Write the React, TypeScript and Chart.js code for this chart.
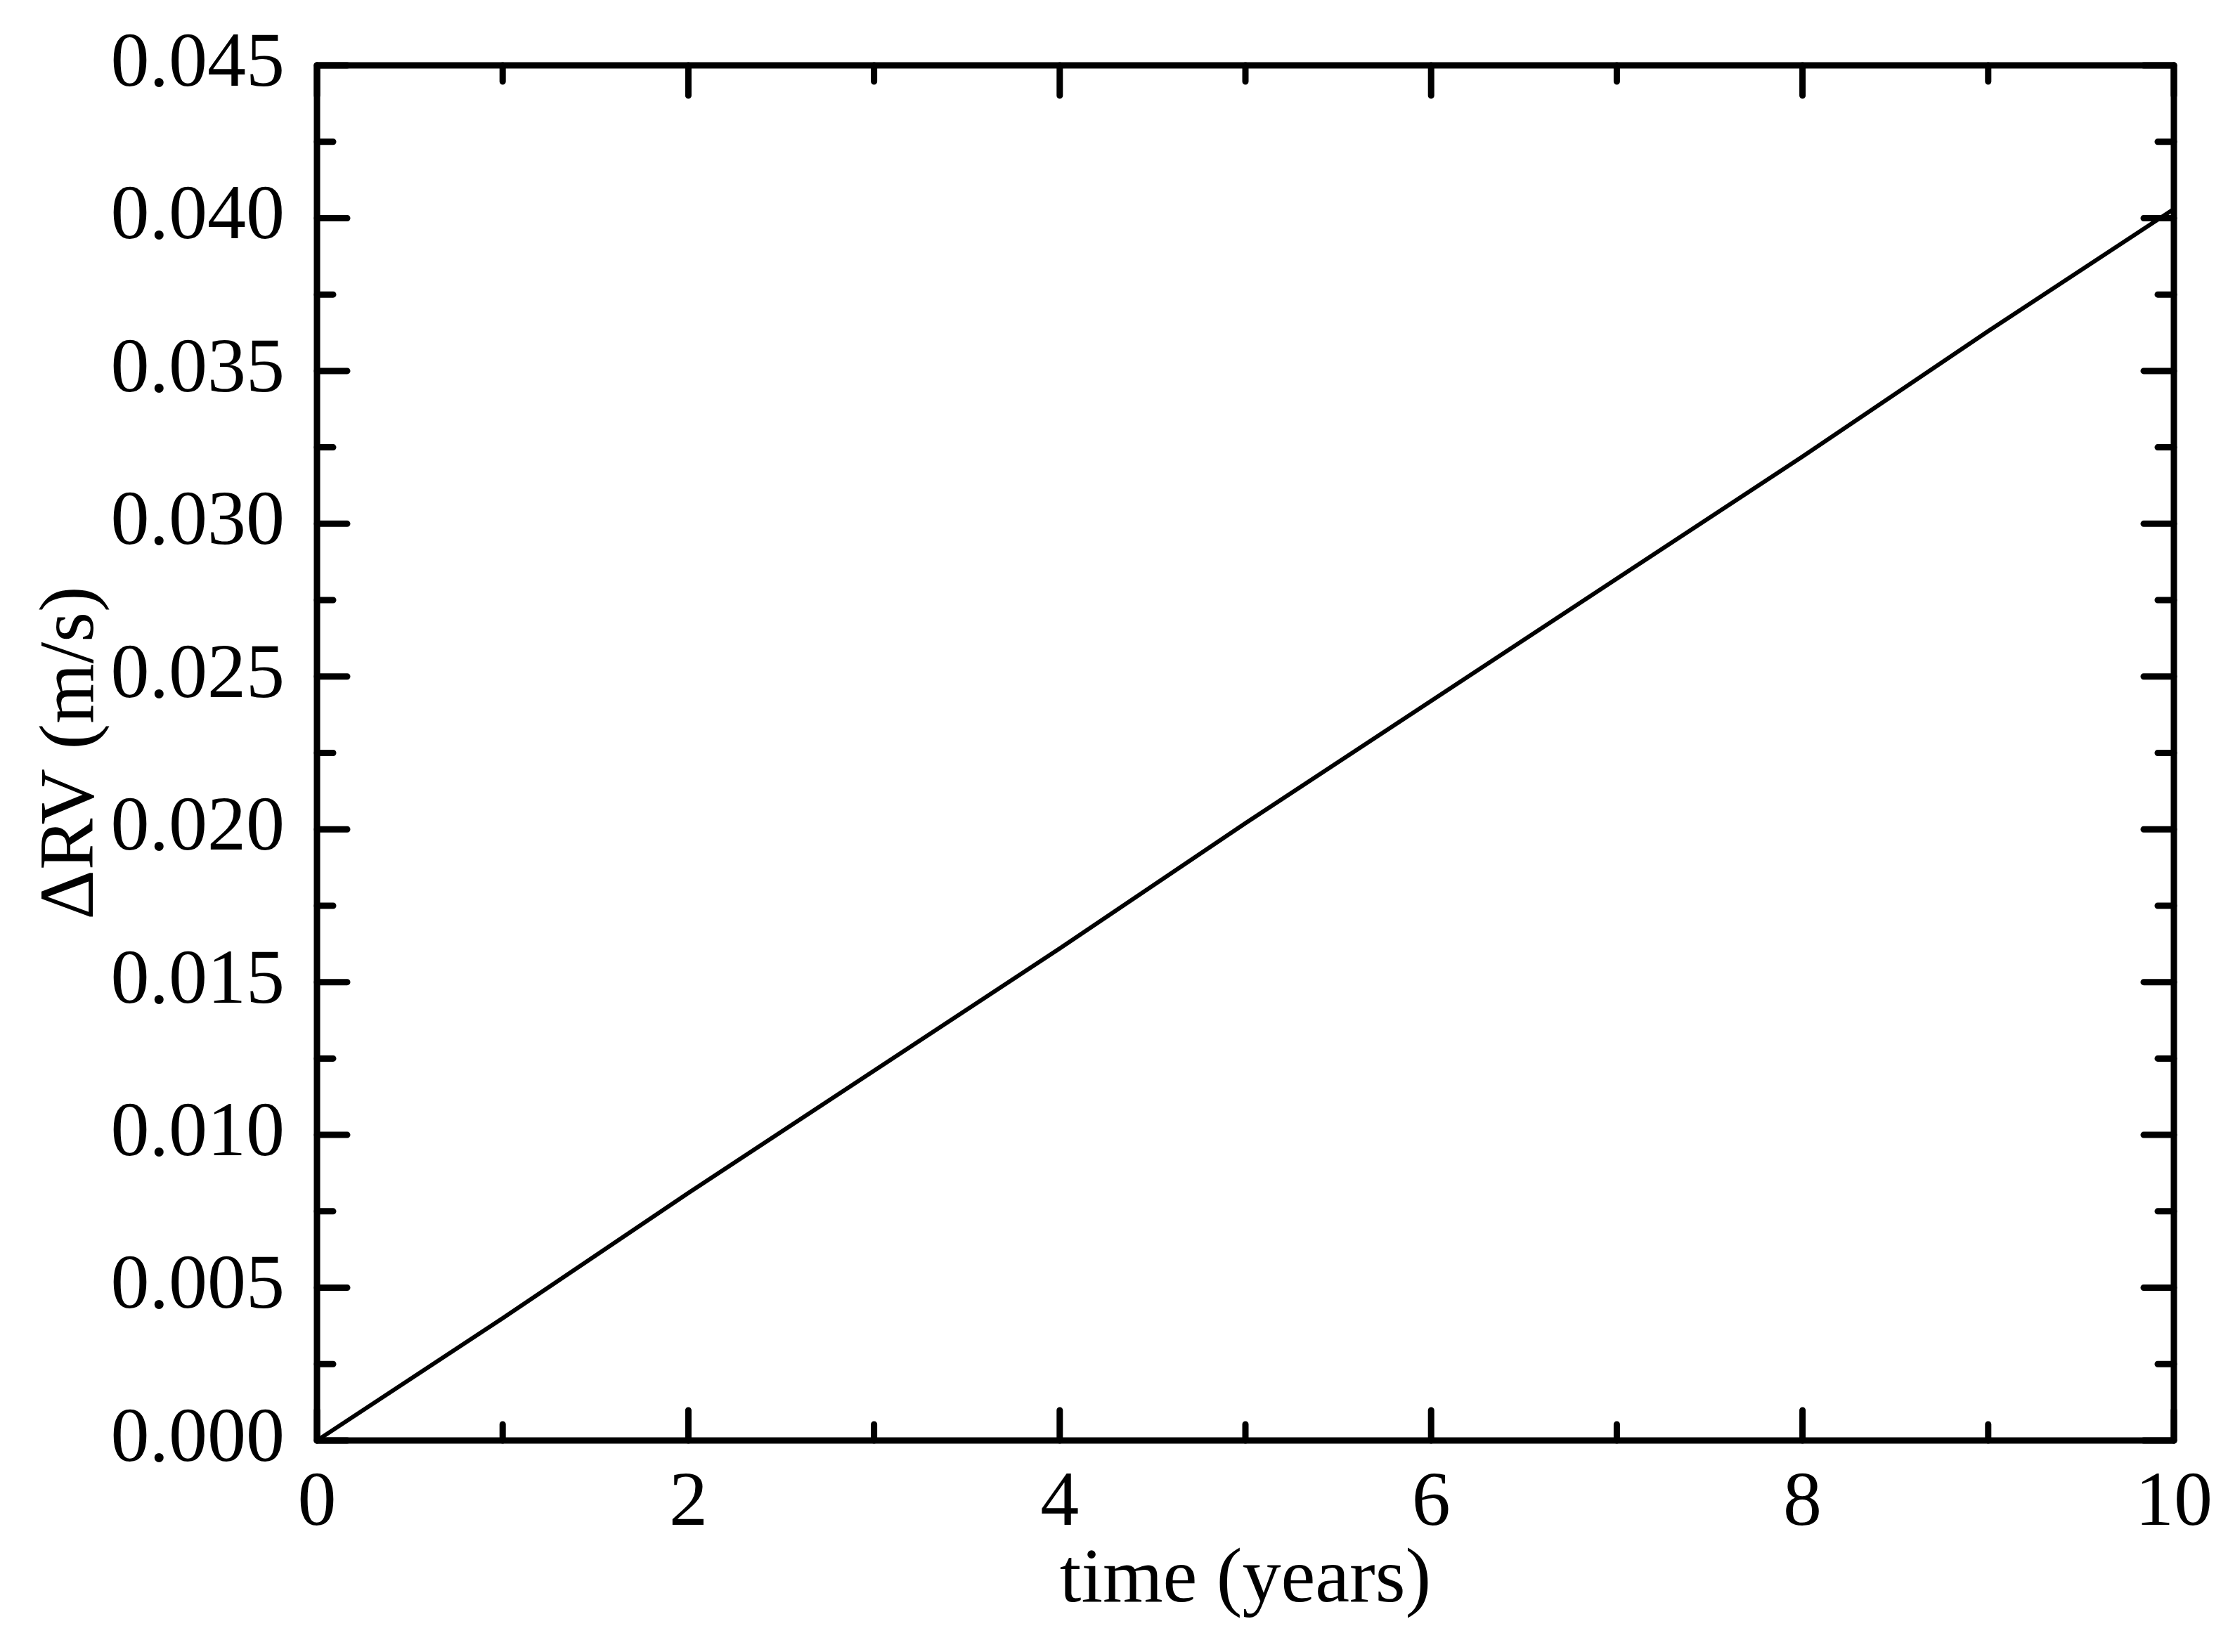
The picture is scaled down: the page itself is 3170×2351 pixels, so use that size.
import React, { useEffect, useRef } from "react";
import { Chart, registerables } from "chart.js";

Chart.register(...registerables);

// ---- data ----
const timeYears = [0, 1, 2, 3, 4, 5, 6, 7, 8, 9, 10];
const deltaRV = [0, 0.004, 0.0081, 0.0121, 0.0161, 0.0202, 0.0242, 0.0282, 0.0322, 0.0363, 0.0403];
const xMajorTicks = [0, 2, 4, 6, 8, 10];
const xMinorTicks = [1, 3, 5, 7, 9];
const yMajorTicks = [0, 0.005, 0.01, 0.015, 0.02, 0.025, 0.03, 0.035, 0.04, 0.045];
const yMinorTicks = [0.0025, 0.0075, 0.0125, 0.0175, 0.0225, 0.0275, 0.0325, 0.0375, 0.0425];
const xTitle = "time (years)";
const yTitle = "ΔRV (m/s)";

const W = 3170;
const H = 2351;
const FONT = "'Liberation Serif', 'Times New Roman', serif";
const FRAME_W = 9;
const MAJOR_LEN = 43;
const MINOR_LEN = 23;

const frameTicksPlugin = {
  id: "frameTicks",
  afterDraw(chart: any) {
    const { ctx, chartArea } = chart;
    const xs = chart.scales.x;
    const ys = chart.scales.y;
    const { left, right, top, bottom } = chartArea;
    ctx.save();
    ctx.strokeStyle = "#000";
    ctx.lineWidth = FRAME_W;
    ctx.lineCap = "round";
    ctx.lineJoin = "round";
    ctx.strokeRect(left, top, right - left, bottom - top);
    const drawX = (v: number, len: number) => {
      const px = xs.getPixelForValue(v);
      ctx.beginPath();
      ctx.moveTo(px, bottom);
      ctx.lineTo(px, bottom - len);
      ctx.moveTo(px, top);
      ctx.lineTo(px, top + len);
      ctx.stroke();
    };
    const drawY = (v: number, len: number) => {
      const py = ys.getPixelForValue(v);
      ctx.beginPath();
      ctx.moveTo(left, py);
      ctx.lineTo(left + len, py);
      ctx.moveTo(right, py);
      ctx.lineTo(right - len, py);
      ctx.stroke();
    };
    xMajorTicks.forEach((v) => drawX(v, MAJOR_LEN));
    xMinorTicks.forEach((v) => drawX(v, MINOR_LEN));
    yMajorTicks.forEach((v) => drawY(v, MAJOR_LEN));
    yMinorTicks.forEach((v) => drawY(v, MINOR_LEN));
    ctx.restore();
  },
};

export default function App() {
  const canvasRef = useRef<HTMLCanvasElement | null>(null);

  useEffect(() => {
    const canvas = canvasRef.current;
    if (!canvas) return;
    const chart = new Chart(canvas, {
      type: "line",
      data: {
        datasets: [
          {
            data: timeYears.map((t, i) => ({ x: t, y: deltaRV[i] })),
            borderColor: "#000",
            borderWidth: 6,
            pointRadius: 0,
            fill: false,
            tension: 0,
          },
        ],
      },
      options: {
        responsive: false,
        animation: false,
        devicePixelRatio: 1,
        layout: { padding: { top: 93, right: 77, left: 0, bottom: 0 } },
        plugins: {
          legend: { display: false },
          tooltip: { enabled: false },
        },
        scales: {
          x: {
            type: "linear",
            min: 0,
            max: 10,
            afterFit: (s: any) => {
              s.height = H - 2050;
              s.paddingLeft = 0;
              s.paddingRight = 0;
            },
            afterBuildTicks: (s: any) => {
              s.ticks = xMajorTicks.map((v) => ({ value: v }));
            },
            grid: { display: false, drawTicks: false, tickLength: 0 },
            border: { display: false },
            ticks: {
              color: "#000",
              padding: 25,
              maxRotation: 0,
              font: { family: FONT, size: 110 },
              callback: (v: any) => String(v),
            },
            title: {
              display: true,
              text: xTitle,
              color: "#000",
              font: { family: FONT, size: 110 },
              padding: { top: 0, bottom: 35 },
            },
          },
          y: {
            type: "linear",
            min: 0,
            max: 0.045,
            afterFit: (s: any) => {
              s.width = 451;
              s.paddingTop = 0;
              s.paddingBottom = 0;
            },
            afterBuildTicks: (s: any) => {
              s.ticks = yMajorTicks.map((v) => ({ value: v }));
            },
            grid: { display: false, drawTicks: false, tickLength: 0 },
            border: { display: false },
            ticks: {
              color: "#000",
              padding: 46,
              font: { family: FONT, size: 110 },
              callback: (v: any) => Number(v).toFixed(3),
            },
            title: {
              display: true,
              text: yTitle,
              color: "#000",
              font: { family: FONT, size: 110 },
              padding: { top: 37, bottom: 0 },
            },
          },
        },
      },
      plugins: [frameTicksPlugin],
    } as any);
    return () => chart.destroy();
  }, []);

  return (
    <div style={{ position: "absolute", left: 0, top: 0, width: W, height: H, background: "#fff" }}>
      <canvas ref={canvasRef} width={W} height={H} style={{ display: "block", width: W, height: H }} />
    </div>
  );
}
